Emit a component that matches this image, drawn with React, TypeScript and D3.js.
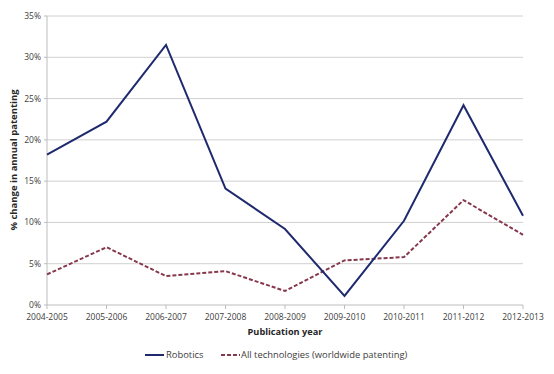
import React from "react";
import * as d3 from "d3";

const categories = ["2004-2005","2005-2006","2006-2007","2007-2008","2008-2009","2009-2010","2010-2011","2011-2012","2012-2013"];
const robotics = [18.2, 22.2, 31.5, 14.1, 9.2, 1.1, 10.2, 24.2, 10.8];
const allTech = [3.7, 7.0, 3.5, 4.1, 1.7, 5.4, 5.8, 12.7, 8.5];
const yTicks = [0, 5, 10, 15, 20, 25, 30, 35];

export default function App() {
  const W = 554, H = 374;
  const left = 47, right = 523, top = 16, bottom = 305;
  const x = d3.scalePoint<string>().domain(categories).range([left, right]);
  const y = d3.scaleLinear().domain([0, 35]).range([bottom, top]);
  const line = d3.line<number>().x((_, i) => x(categories[i])!).y(d => y(d));
  const font = "Open Sans, Liberation Sans, sans-serif";
  const txt = "#404040";
  return (
    <svg width={W} height={H} style={{ position: "absolute", left: 0, top: 0, background: "#fff" }} fontFamily={font}>
      {yTicks.map(t => (
        <g key={t}>
          {t > 0 && <line x1={left} x2={right} y1={y(t)} y2={y(t)} stroke="#d0d0d0" strokeWidth={1} />}
          <text x={left - 6} y={y(t)} dy="0.35em" textAnchor="end" fontSize={8.5} fill={txt}>{t}%</text>
          <line x1={left - 3} x2={left} y1={y(t)} y2={y(t)} stroke="#bdbdbd" />
        </g>
      ))}
      <line x1={left} x2={left} y1={top} y2={bottom} stroke="#bdbdbd" />
      <line x1={left} x2={right} y1={bottom} y2={bottom} stroke="#bdbdbd" />
      {categories.map(c => (
        <g key={c}>
          <line x1={x(c)} x2={x(c)} y1={bottom} y2={bottom + 4} stroke="#bdbdbd" />
          <text x={x(c)} y={bottom + 15} textAnchor="middle" fontSize={8.5} fill={txt}>{c}</text>
        </g>
      ))}
      <text x={285} y={335} textAnchor="middle" fontSize={9.2} fontWeight="bold" fill="#262626">Publication year</text>
      <text transform={`translate(17,160) rotate(-90)`} textAnchor="middle" fontSize={9.5} fontWeight="bold" fill="#262626">% change in annual patenting</text>
      <path d={line(allTech)!} fill="none" stroke="#86384c" strokeWidth={2} strokeDasharray="4,2" />
      <path d={line(robotics)!} fill="none" stroke="#1f2a6e" strokeWidth={2} />
      <line x1={145} x2={164} y1={355} y2={355} stroke="#1f2a6e" strokeWidth={2} />
      <text x={166} y={355} dy="0.35em" fontSize={9.4} fill={txt}>Robotics</text>
      <line x1={221} x2={240} y1={355} y2={355} stroke="#86384c" strokeWidth={2} strokeDasharray="4,2" />
      <text x={241} y={355} dy="0.35em" fontSize={9.4} fill={txt}>All technologies (worldwide patenting)</text>
    </svg>
  );
}
